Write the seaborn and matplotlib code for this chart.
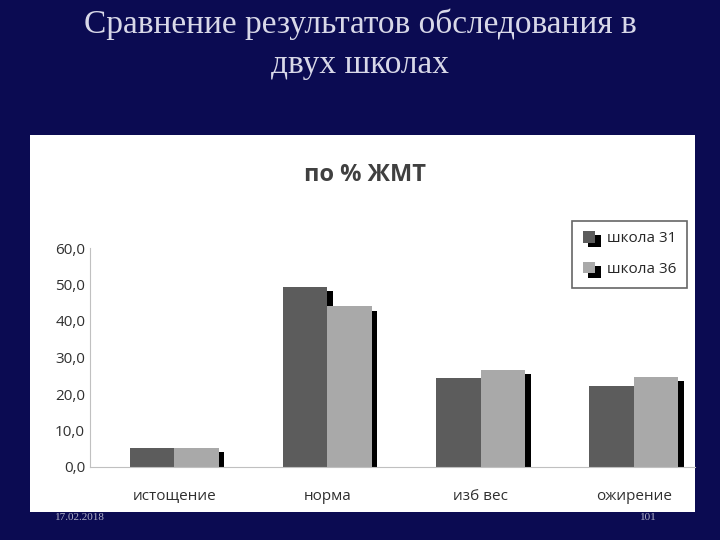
import pandas as pd
import matplotlib.pyplot as plt
import matplotlib.patheffects as pe
import seaborn as sns

# Data
categories = ["истощение", "норма", "изб вес", "ожирение"]
school31 = [5.3, 49.3, 24.3, 22.3]
school36 = [5.3, 44.0, 26.7, 24.7]
series = ["школа 31", "школа 36"]
yticks = [0, 10, 20, 30, 40, 50, 60]

df = pd.DataFrame({
    "cat": categories * 2,
    "val": school31 + school36,
    "school": [series[0]] * 4 + [series[1]] * 4,
})

sns.set_style("white")
plt.rcParams['font.family'] = ['Open Sans', 'DejaVu Sans']

fig = plt.figure(figsize=(7.2, 5.4), dpi=100)
fig.patch.set_facecolor("#0b0b52")

# white panel (background axes)
bg = fig.add_axes([30 / 720, 1 - 512 / 540, 665 / 720, 377 / 540])
bg.set_facecolor("white")
bg.set_xticks([])
bg.set_yticks([])
for s in bg.spines.values():
    s.set_visible(False)

fig.text(0.5, 0.985, "Сравнение результатов обследования в\nдвух школах",
         ha="center", va="top", color="#d8d8e8", fontsize=24,
         family=["Liberation Serif", "DejaVu Serif"], linespacing=1.4)

fig.text(365 / 720, 1 - 175 / 540, "по % ЖМТ", ha="center", va="center",
         fontsize=17, fontweight="bold", color="#404040")

ax = fig.add_axes([90 / 720, 1 - 467 / 540, 605 / 720, 219 / 540])
ax.set_facecolor("none")
sns.barplot(data=df, x="cat", y="val", hue="school",
            palette=["#5c5c5c", "#a9a9a9"], width=0.58, gap=0,
            edgecolor="none", ax=ax)
for p in ax.patches:
    p.set_path_effects([pe.SimplePatchShadow(offset=(4, -3), shadow_rgbFace="black",
                                             alpha=1), pe.Normal()])

ax.set_ylim(0, 60)
ax.set_yticks(yticks)
ax.set_yticklabels([f"{v:.1f}".replace(".", ",") for v in yticks])
ax.set_xlim(-0.55, 3.4)
ax.set_xlabel("")
ax.set_ylabel("")
ax.tick_params(axis="both", labelsize=11, colors="#303030", length=0)
ax.tick_params(axis="x", pad=16)
for s in ["top", "right"]:
    ax.spines[s].set_visible(False)
for s in ["left", "bottom"]:
    ax.spines[s].set_color("#c0c0c0")

leg = ax.legend(loc="upper right", bbox_to_anchor=(1.0, 1.16), frameon=True,
                fontsize=11, handlelength=0.8, handleheight=0.8,
                labelspacing=1.0, borderpad=0.7, fancybox=False)
leg.get_frame().set_edgecolor("#404040")
leg.get_frame().set_linewidth(1.2)

fig.text(80 / 720, 1 - 517 / 540, "17.02.2018", ha="center", va="center",
         fontsize=8, color="#b0b0c8", family=["Liberation Serif"])
fig.text(648 / 720, 1 - 517 / 540, "101", ha="center", va="center",
         fontsize=8, color="#b0b0c8", family=["Liberation Serif"])

fig.savefig("out.png", dpi=100, facecolor=fig.get_facecolor())
